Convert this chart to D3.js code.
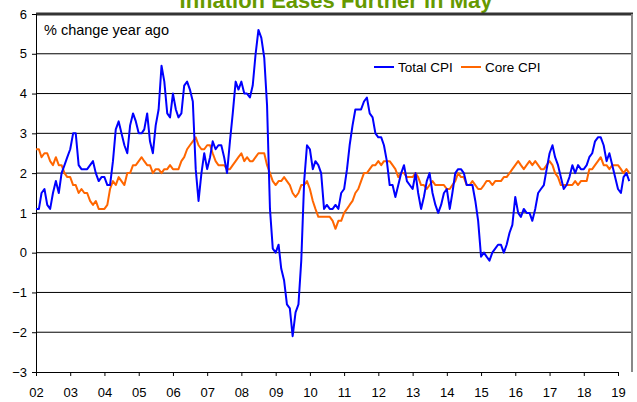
<!DOCTYPE html>
<html>
<head>
<meta charset="utf-8">
<script src="https://cdn.jsdelivr.net/npm/d3@7"></script>
<style>
  body { margin: 0; background: #fff; }
  svg { display: block; font-family: Arial, "Liberation Sans", sans-serif; }
</style>
</head>
<body>
<svg id="chart"></svg>
<script>
// monthly, Jan 2002 .. May 2019, % change year ago
const totalCpi = [
  1.1, 1.1, 1.5, 1.6, 1.2, 1.1, 1.5, 1.8, 1.5, 2.0, 2.2, 2.4,
  2.6, 3.0, 3.0, 2.2, 2.1, 2.1, 2.1, 2.2, 2.3, 2.0, 1.8, 1.9,
  1.9, 1.7, 1.7, 2.3, 3.1, 3.3, 3.0, 2.7, 2.5, 3.2, 3.5, 3.3,
  3.0, 3.0, 3.1, 3.5, 2.8, 2.5, 3.2, 3.6, 4.7, 4.3, 3.5, 3.4,
  4.0, 3.6, 3.4, 3.5, 4.2, 4.3, 4.1, 3.8, 2.1, 1.3, 2.0, 2.5,
  2.1, 2.4, 2.8, 2.6, 2.7, 2.7, 2.4, 2.0, 2.8, 3.5, 4.3, 4.1,
  4.3, 4.0, 4.0, 3.9, 4.2, 5.0, 5.6, 5.4, 4.9, 3.7, 1.1, 0.1,
  0.0, 0.2, -0.4, -0.7, -1.3, -1.4, -2.1, -1.5, -1.3, -0.2, 1.8, 2.7,
  2.6, 2.1, 2.3, 2.2, 2.0, 1.1, 1.2, 1.1, 1.1, 1.2, 1.1, 1.5,
  1.6, 2.1, 2.7, 3.2, 3.6, 3.6, 3.6, 3.8, 3.9, 3.5, 3.4, 3.0,
  2.9, 2.9, 2.7, 2.3, 1.7, 1.7, 1.4, 1.7, 2.0, 2.2, 1.8, 1.7,
  1.6, 2.0, 1.5, 1.1, 1.4, 1.8, 2.0, 1.5, 1.2, 1.0, 1.2, 1.5,
  1.6, 1.1, 1.5, 2.0, 2.1, 2.1, 2.0, 1.7, 1.7, 1.7, 1.3, 0.8,
  -0.1, 0.0, -0.1, -0.2, 0.0, 0.1, 0.2, 0.2, 0.0, 0.2, 0.5, 0.7,
  1.4, 1.0, 0.9, 1.1, 1.0, 1.0, 0.8, 1.1, 1.5, 1.6, 1.7, 2.1,
  2.5, 2.7, 2.4, 2.2, 1.9, 1.6, 1.7, 1.9, 2.2, 2.0, 2.2, 2.1,
  2.1, 2.2, 2.4, 2.5, 2.8, 2.9, 2.9, 2.7, 2.3, 2.5, 2.2, 1.9,
  1.6, 1.5, 1.9, 2.0, 1.8
];

const coreCpi = [
  2.6, 2.6, 2.4, 2.5, 2.5, 2.3, 2.2, 2.4, 2.2, 2.2, 2.0, 1.9,
  1.9, 1.7, 1.7, 1.5, 1.6, 1.5, 1.5, 1.3, 1.2, 1.3, 1.1, 1.1,
  1.1, 1.2, 1.6, 1.8, 1.7, 1.9, 1.8, 1.7, 2.0, 2.0, 2.2, 2.2,
  2.3, 2.4, 2.3, 2.2, 2.2, 2.0, 2.1, 2.1, 2.0, 2.1, 2.1, 2.2,
  2.1, 2.1, 2.1, 2.3, 2.4, 2.6, 2.7, 2.8, 2.9, 2.7, 2.6, 2.6,
  2.7, 2.7, 2.5, 2.3, 2.2, 2.2, 2.2, 2.1, 2.1, 2.2, 2.3, 2.4,
  2.5, 2.3, 2.4, 2.3, 2.3, 2.4, 2.5, 2.5, 2.5, 2.2, 2.0, 1.8,
  1.7, 1.8, 1.8, 1.9, 1.8, 1.7, 1.5, 1.4, 1.5, 1.7, 1.7, 1.8,
  1.6, 1.3, 1.1, 0.9, 0.9, 0.9, 0.9, 0.9, 0.8, 0.6, 0.8, 0.8,
  1.0, 1.1, 1.2, 1.3, 1.5, 1.6, 1.8, 2.0, 2.0, 2.1, 2.2, 2.2,
  2.3, 2.2, 2.3, 2.3, 2.3, 2.2, 2.1, 1.9, 2.0, 2.0, 1.9, 1.9,
  1.9, 2.0, 1.9, 1.7, 1.7, 1.6, 1.7, 1.8, 1.7, 1.7, 1.7, 1.7,
  1.6, 1.6, 1.7, 1.8, 2.0, 1.9, 1.9, 1.7, 1.7, 1.8, 1.7, 1.6,
  1.6, 1.7, 1.8, 1.8, 1.7, 1.8, 1.8, 1.8, 1.9, 1.9, 2.0, 2.1,
  2.2, 2.3, 2.2, 2.1, 2.2, 2.3, 2.2, 2.3, 2.2, 2.1, 2.1, 2.2,
  2.3, 2.2, 2.0, 1.9, 1.7, 1.7, 1.7, 1.7, 1.7, 1.8, 1.7, 1.8,
  1.8, 1.8, 2.1, 2.1, 2.2, 2.3, 2.4, 2.2, 2.2, 2.1, 2.2, 2.2,
  2.2, 2.1, 2.0, 2.1, 2.0
];

const yearLabels = ["02", "03", "04", "05", "06", "07", "08", "09", "10",
  "11", "12", "13", "14", "15", "16", "17", "18", "19"];
const yTicks = [-3, -2, -1, 0, 1, 2, 3, 4, 5, 6];
const seriesNames = ["Total CPI", "Core CPI"];
const seriesColors = ["#0000ff", "#ff6600"];

const WIDTH = 637;
const HEIGHT = 402;
const PLOT = { LEFT: 36, RIGHT: 632, TOP: 14, BOTTOM: 372 };

let svg = d3.select("#chart")
  .attr("width", WIDTH)
  .attr("height", HEIGHT);

let dates = totalCpi.map((d, i) => new Date(2002, i, 1));
let yearDates = yearLabels.map((d, i) => new Date(2002 + i, 0, 1));

let xScale = d3.scaleTime()
  .domain([yearDates[0], yearDates[yearDates.length - 1]])
  .range([PLOT.LEFT, 618]);
let yScale = d3.scaleLinear()
  .domain([-3, 6])
  .range([PLOT.BOTTOM, PLOT.TOP]);

// title, mostly cut off at the top edge
svg.append("text")
  .attr("x", 336)
  .attr("y", 7.5)
  .attr("text-anchor", "middle")
  .style("font-size", "22px")
  .style("font-weight", "bold")
  .style("fill", "#669900")
  .text("Inflation Eases Further in May");

// gridlines
svg.append("g")
  .selectAll("line")
  .data(yTicks.filter(d => d > -3 && d < 6))
  .enter()
    .append("line")
    .attr("x1", PLOT.LEFT)
    .attr("x2", PLOT.RIGHT)
    .attr("y1", d => yScale(d))
    .attr("y2", d => yScale(d))
    .attr("stroke", "#000")
    .attr("stroke-width", 1);

// frame: heavy top, grey right
svg.append("line")
  .attr("x1", PLOT.LEFT).attr("x2", PLOT.RIGHT + 1)
  .attr("y1", yScale(6)).attr("y2", yScale(6))
  .attr("stroke", "#333").attr("stroke-width", 3);
svg.append("line")
  .attr("x1", PLOT.RIGHT).attr("x2", PLOT.RIGHT)
  .attr("y1", yScale(6)).attr("y2", PLOT.BOTTOM)
  .attr("stroke", "#888").attr("stroke-width", 2);

// y axis
let yAxis = svg.append("g")
  .attr("transform", `translate(${PLOT.LEFT},0)`)
  .call(d3.axisLeft(yScale).tickValues(yTicks).tickSize(4).tickPadding(5).tickFormat(d3.format("d")));

// x axis
let xAxis = svg.append("g")
  .attr("transform", `translate(0,${PLOT.BOTTOM})`)
  .call(d3.axisBottom(xScale).tickValues(yearDates).tickSize(4).tickPadding(12)
    .tickFormat((d, i) => yearLabels[i]));

[yAxis, xAxis].forEach(function(ax) {
  ax.select(".domain").attr("stroke", "#000");
  ax.selectAll(".tick line").attr("stroke", "#000");
  ax.selectAll("text")
    .style("font-size", "13px")
    .style("fill", "#000")
    .style("font-family", "Arial, 'Liberation Sans', sans-serif");
});

// series
let line = d3.line()
  .x((d, i) => xScale(dates[i]))
  .y(d => yScale(d));

[coreCpi, totalCpi].forEach(function(values) {
  let idx = values === totalCpi ? 0 : 1;
  svg.append("path")
    .datum(values)
    .attr("d", line)
    .attr("fill", "none")
    .attr("stroke", seriesColors[idx])
    .attr("stroke-width", 2)
    .attr("stroke-linejoin", "round");
});

// subtitle
svg.append("text")
  .attr("x", 44)
  .attr("y", 35)
  .style("font-size", "14.5px")
  .style("fill", "#000")
  .text("% change year ago");

// legend
let legendX = [374, 461];
seriesNames.forEach(function(name, i) {
  svg.append("line")
    .attr("x1", legendX[i]).attr("x2", legendX[i] + 20)
    .attr("y1", 67).attr("y2", 67)
    .attr("stroke", seriesColors[i])
    .attr("stroke-width", 2);
  svg.append("text")
    .attr("x", legendX[i] + 24)
    .attr("y", 72)
    .style("font-size", "13.5px")
    .style("fill", "#000")
    .text(name);
});
</script>
</body>
</html>
